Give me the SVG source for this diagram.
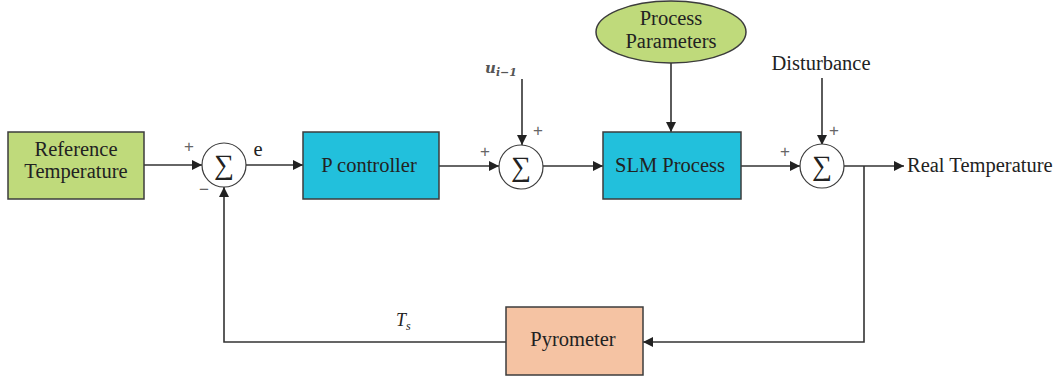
<svg xmlns="http://www.w3.org/2000/svg" width="1055" height="377" viewBox="0 0 1055 377">
  <style>
    .blk { stroke: #3c3c3c; stroke-width: 1.5; }
    .green { fill: #bfda7b; }
    .cyan { fill: #22c0dc; }
    .peach { fill: #f5c3a3; }
    .sum { fill: #ffffff; stroke: #3c3c3c; stroke-width: 1.2; }
    .lbl { font-family: "Liberation Serif", "DejaVu Serif", serif; font-size: 20.5px; fill: #222222; }
    .sig { font-family: "Liberation Serif", "DejaVu Serif", serif; font-size: 28px; fill: #222222; }
    .pm { font-family: "Liberation Sans", "DejaVu Sans", sans-serif; font-size: 17px; fill: #666666; }
    .wire { fill: none; stroke: #333333; stroke-width: 1.6; }
  </style>
  <defs>
    <marker id="arr" viewBox="0 0 10 10" refX="10" refY="5" markerWidth="11" markerHeight="10" markerUnits="userSpaceOnUse" orient="auto">
      <path d="M0,0 L10,5 L0,10 z" fill="#222222"/>
    </marker>
  </defs>

  <rect width="1055" height="377" fill="#ffffff"/>

  <!-- connectors -->
  <g id="connectors">
    <line class="wire" x1="144" y1="165" x2="202" y2="165" marker-end="url(#arr)"/>
    <line class="wire" x1="246" y1="165" x2="303" y2="165" marker-end="url(#arr)"/>
    <line class="wire" x1="439" y1="166" x2="499" y2="166" marker-end="url(#arr)"/>
    <line class="wire" x1="522" y1="79" x2="522" y2="145" marker-end="url(#arr)"/>
    <line class="wire" x1="543" y1="166" x2="603" y2="166" marker-end="url(#arr)"/>
    <line class="wire" x1="671" y1="63" x2="671" y2="132" marker-end="url(#arr)"/>
    <line class="wire" x1="741" y1="166" x2="800" y2="166" marker-end="url(#arr)"/>
    <line class="wire" x1="822" y1="78" x2="822" y2="145" marker-end="url(#arr)"/>
    <line class="wire" x1="844" y1="166" x2="904" y2="166" marker-end="url(#arr)"/>
    <polyline class="wire" points="864,166 864,342 643,342" marker-end="url(#arr)"/>
    <polyline class="wire" points="506,342 224,342 224,187" marker-end="url(#arr)"/>
  </g>

  <g id="reference">
    <rect class="blk green" x="8" y="132" width="136" height="67"/>
    <text class="lbl" x="76" y="156" text-anchor="middle">Reference</text>
    <text class="lbl" x="76" y="178" text-anchor="middle">Temperature</text>
  </g>

  <g id="sum1">
    <circle class="sum" cx="224" cy="165" r="22"/>
    <text class="sig" x="224" y="174" text-anchor="middle">∑</text>
    <text class="pm" x="189" y="152" text-anchor="middle">+</text>
    <text class="pm" x="204" y="195" text-anchor="middle">−</text>
    <text class="lbl" x="258" y="156" text-anchor="middle">e</text>
  </g>

  <g id="controller">
    <rect class="blk cyan" x="303" y="132" width="136" height="67"/>
    <text class="lbl" x="369" y="172" text-anchor="middle">P controller</text>
  </g>

  <g id="sum2">
    <circle class="sum" cx="521" cy="167" r="22"/>
    <text class="sig" x="521" y="176" text-anchor="middle">∑</text>
    <text class="pm" x="485" y="157" text-anchor="middle">+</text>
    <text class="pm" x="538" y="136" text-anchor="middle">+</text>
    <text x="485" y="73" font-family="'DejaVu Serif', serif" font-style="italic" font-weight="bold" font-size="15" fill="#555555">u<tspan font-size="11" dy="3">i−1</tspan></text>
  </g>

  <g id="params">
    <ellipse class="blk green" cx="671" cy="32" rx="75" ry="31"/>
    <text class="lbl" x="671" y="25" text-anchor="middle">Process</text>
    <text class="lbl" x="671" y="48" text-anchor="middle">Parameters</text>
  </g>

  <g id="process">
    <rect class="blk cyan" x="603" y="132" width="138" height="67"/>
    <text class="lbl" x="670" y="172" text-anchor="middle">SLM Process</text>
  </g>

  <g id="sum3">
    <circle class="sum" cx="822" cy="166" r="22"/>
    <text class="sig" x="822" y="175" text-anchor="middle">∑</text>
    <text class="pm" x="785" y="157" text-anchor="middle">+</text>
    <text class="pm" x="834" y="136" text-anchor="middle">+</text>
    <text class="lbl" x="821" y="70" text-anchor="middle">Disturbance</text>
    <text class="lbl" x="907" y="172">Real Temperature</text>
  </g>

  <g id="pyrometer">
    <rect class="blk peach" x="506" y="307" width="137" height="68"/>
    <text class="lbl" x="573" y="346" text-anchor="middle">Pyrometer</text>
    <text x="396" y="326" font-family="'Liberation Serif', serif" font-style="italic" font-size="18" fill="#222222">T<tspan font-size="12" dy="4">s</tspan></text>
  </g>
</svg>
